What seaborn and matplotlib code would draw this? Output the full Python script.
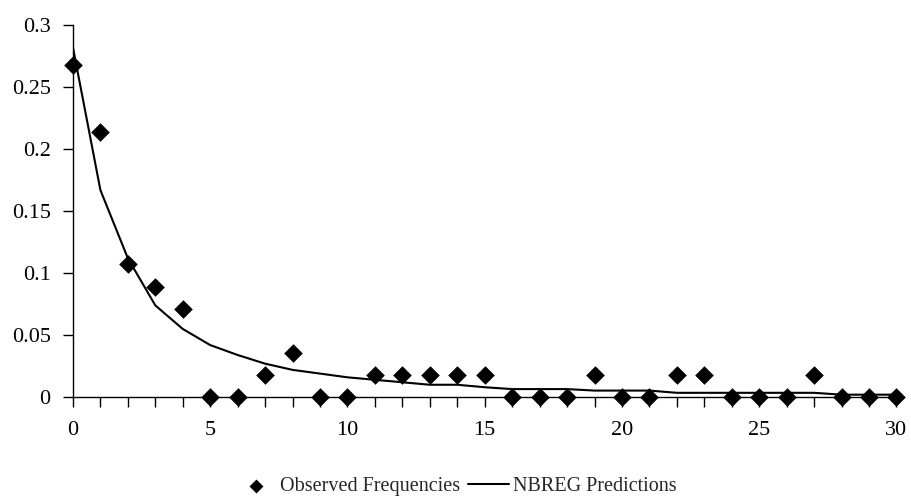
import numpy as np
import pandas as pd
import matplotlib
matplotlib.use("Agg")
import matplotlib.pyplot as plt
import seaborn as sns

# Daten
counts = list(range(31))
observed = [0.268, 0.214, 0.107, 0.089, 0.071, 0.0, 0.0, 0.018, 0.036, 0.0,
            0.0, 0.018, 0.018, 0.018, 0.018, 0.018, 0.0, 0.0, 0.0, 0.018,
            0.0, 0.0, 0.018, 0.018, 0.0, 0.0, 0.0, 0.018, 0.0, 0.0, 0.0]
predicted = [0.282, 0.167, 0.112, 0.074, 0.055, 0.042, 0.034, 0.027, 0.022, 0.019,
             0.016, 0.014, 0.012, 0.010, 0.010, 0.008, 0.0065, 0.0065, 0.0065, 0.0053,
             0.0053, 0.0053, 0.0035, 0.0035, 0.0035, 0.0035, 0.0035, 0.0035, 0.002, 0.002, 0.002]
ytick_labels = ["0", "0.05", "0.1", "0.15", "0.2", "0.25", "0.3"]

df = pd.DataFrame({"count": counts, "observed": observed, "predicted": predicted})

sns.set_theme(style="ticks")
plt.rcParams["font.family"] = ["Liberation Serif", "DejaVu Serif"]

fig = plt.figure(figsize=(9.12, 5.04), dpi=100)
ax = fig.add_axes([0.080, 0.212, 0.903, 0.738])

sns.lineplot(data=df, x="count", y="predicted", color="black", linewidth=1.5,
             ax=ax, label="NBREG Predictions", zorder=2)
sns.scatterplot(data=df, x="count", y="observed", marker="D", color="black",
                s=90, edgecolor="black", linewidth=0, ax=ax,
                label="Observed Frequencies", zorder=3, clip_on=False)

ax.set_xlim(0, 30)
ax.set_ylim(0, 0.3)
ax.set_xticks(range(0, 31, 5))
ax.set_xticks(range(0, 31), minor=True)
ax.set_yticks(np.arange(0, 0.31, 0.05))
ax.set_yticklabels(ytick_labels)
ax.tick_params(axis="both", which="major", labelsize=16, length=7, width=1,
               colors="black", pad=9)
ax.tick_params(axis="x", which="major", pad=10)
ax.tick_params(axis="x", which="minor", length=7, width=1, colors="black")
ax.set_xlabel("")
ax.set_ylabel("")
for sp in ["top", "right"]:
    ax.spines[sp].set_visible(False)
for sp in ["left", "bottom"]:
    ax.spines[sp].set_color("black")
    ax.spines[sp].set_linewidth(1)

h, l = ax.get_legend_handles_labels()
ax.get_legend().remove()
fig.legend([h[1], h[0]], [l[1], l[0]], loc="center", bbox_to_anchor=(0.5, 0.034),
           ncol=2, frameon=False, fontsize=14.5, handlelength=2.0, columnspacing=0.4,
           handletextpad=0.2, markerscale=0.75)

fig.savefig("out.png", dpi=100)
